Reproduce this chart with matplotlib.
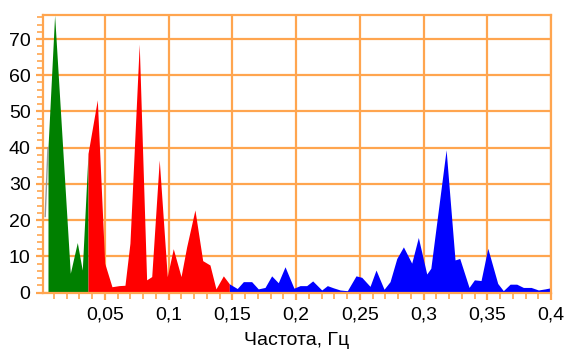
import numpy as np
import matplotlib
matplotlib.use("Agg")
import matplotlib.pyplot as plt
from matplotlib.ticker import MultipleLocator, FuncFormatter

# Спектр: частота (Гц) и мощность, три диапазона
vlf_f = [0.0053, 0.0105, 0.0228, 0.0283, 0.0322, 0.0367]
vlf_p = [40.0, 76.6, 5.3, 13.8, 6.2, 38.4]

lf_f = [0.0367, 0.0440, 0.0498, 0.0555, 0.0610, 0.0657, 0.0696, 0.0769, 0.0827,
        0.0867, 0.0926, 0.0989, 0.1036, 0.1097, 0.1141, 0.1206, 0.1267, 0.1324,
        0.1371, 0.1429, 0.1476]
lf_p = [38.4, 53.2, 8.1, 1.6, 1.9, 2.0, 13.6, 68.6, 3.5,
        4.4, 36.6, 4.4, 12.1, 4.4, 12.6, 22.8, 8.8, 7.6,
        1.0, 4.6, 2.4]

hf_f = [0.1476, 0.1538, 0.1586, 0.1651, 0.1703, 0.1756, 0.1808, 0.1860, 0.1913,
        0.1983, 0.2031, 0.2083, 0.2130, 0.2201, 0.2245, 0.2292, 0.2345, 0.2402,
        0.2470, 0.2515, 0.2580, 0.2627, 0.2690, 0.2737, 0.2790, 0.2842, 0.2907,
        0.2959, 0.3025, 0.3057, 0.3177, 0.3247, 0.3284, 0.3357, 0.3399, 0.3451,
        0.3504, 0.3582, 0.3626, 0.3679, 0.3731, 0.3783, 0.3844, 0.3901, 0.3954,
        0.4011]
hf_p = [2.4, 1.1, 3.0, 3.0, 1.0, 1.4, 4.6, 2.7, 7.1,
        1.2, 1.9, 1.9, 3.2, 0.7, 1.9, 1.3, 0.7, 0.5,
        4.6, 4.2, 1.7, 6.2, 0.9, 3.0, 9.4, 12.6, 8.1,
        15.2, 5.1, 6.7, 39.4, 9.0, 9.4, 1.4, 3.5, 3.3,
        12.2, 2.5, 0.5, 2.3, 2.3, 1.4, 1.4, 0.7, 1.0,
        1.4]

# начальный серый участок
grey_f = [0.0031, 0.0053]
grey_p = [21.0, 40.0]

orange = "#FFA54F"

plt.rcParams['font.family'] = ['Liberation Sans', 'DejaVu Sans']

fig = plt.figure(figsize=(5.66, 3.52), dpi=100)
ax = fig.add_axes([0.076, 0.169, 0.8975, 0.788])

ax.plot(grey_f, grey_p, color="#999999", lw=1.0)
ax.fill_between(vlf_f, vlf_p, 0, color="#008000", lw=0)
ax.fill_between(lf_f, lf_p, 0, color="#FF0000", lw=0)
ax.fill_between(hf_f, hf_p, 0, color="#0000FF", lw=0)

ax.set_xlim(0.0014, 0.4)
ax.set_ylim(0, 76.6)

ax.xaxis.set_major_locator(MultipleLocator(0.05))
ax.xaxis.set_minor_locator(MultipleLocator(0.01))
ax.yaxis.set_major_locator(MultipleLocator(10))
ax.yaxis.set_minor_locator(MultipleLocator(2))

def fmt_x(v, pos):
    if abs(v) < 1e-9:
        return ""
    return ("%g" % round(v, 2)).replace(".", ",")

ax.xaxis.set_major_formatter(FuncFormatter(fmt_x))

ax.grid(True, which="major", color=orange, lw=1.6, zorder=0)
ax.set_axisbelow(True)
for s in ax.spines.values():
    s.set_color(orange)
    s.set_linewidth(1.6)

ax.tick_params(which="both", color=orange, labelsize=14, labelcolor="black")
ax.tick_params(which="major", length=5, width=1.6)
ax.tick_params(which="minor", length=4, width=1.2)
ax.tick_params(axis="y", pad=4)
ax.tick_params(axis="x", pad=5)

ax.set_xlabel("Частота, Гц", fontsize=14, labelpad=6)

fig.savefig("out.png", dpi=100)
